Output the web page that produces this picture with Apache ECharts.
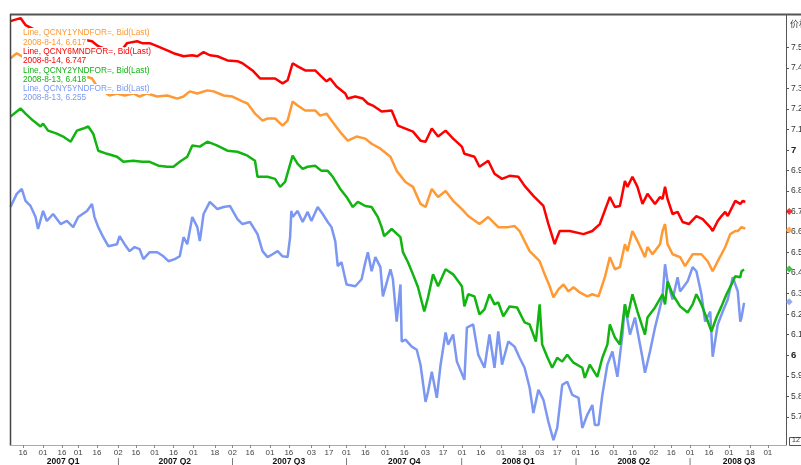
<!DOCTYPE html>
<html>
<head>
<meta charset="utf-8">
<script src="https://cdn.jsdelivr.net/npm/echarts@6/dist/echarts.min.js"></script>
<style>
html,body{margin:0;padding:0;background:#fff}
#chart{width:801px;height:465px}
</style>
</head>
<body>
<div id="chart"></div>
<script>
// QCNY6MNDFOR= (红)
var s6M = [
  ['2007-01-06',7.627],['2007-01-14',7.642],['2007-01-18',7.608],['2007-01-26',7.583],['2007-02-11',7.564],
  ['2007-02-27',7.544],['2007-03-12',7.529],['2007-03-17',7.505],['2007-03-28',7.478],['2007-04-04',7.480],['2007-04-09',7.520],
  ['2007-04-17',7.529],['2007-04-21',7.520],['2007-04-27',7.520],['2007-05-03',7.505],['2007-05-11',7.485],
  ['2007-05-16',7.471],['2007-05-24',7.456],['2007-05-31',7.461],['2007-06-04',7.456],['2007-06-09',7.476],
  ['2007-06-14',7.461],['2007-06-20',7.456],['2007-06-28',7.436],['2007-07-06',7.432],['2007-07-10',7.422],
  ['2007-07-18',7.387],['2007-07-24',7.348],['2007-07-30',7.348],['2007-08-05',7.348],['2007-08-11',7.324],
  ['2007-08-15',7.339],['2007-08-19',7.422],['2007-08-23',7.407],['2007-08-29',7.387],['2007-09-06',7.387],
  ['2007-09-10',7.363],['2007-09-15',7.334],['2007-09-18',7.348],['2007-09-23',7.309],['2007-09-30',7.275],
  ['2007-10-02',7.250],['2007-10-08',7.260],['2007-10-14',7.250],['2007-10-18',7.226],['2007-10-22',7.216],
  ['2007-10-29',7.187],['2007-11-06',7.192],['2007-11-11',7.118],['2007-11-17',7.104],['2007-11-23',7.089],
  ['2007-11-29',7.045],['2007-12-03',7.040],['2007-12-08',7.104],['2007-12-13',7.065],['2007-12-19',7.094],
  ['2007-12-25',7.055],['2008-01-01',7.016],['2008-01-03',6.981],['2008-01-11',6.967],['2008-01-15',6.918],
  ['2008-01-22',6.947],['2008-01-27',6.884],['2008-02-02',6.859],['2008-02-08',6.874],['2008-02-15',6.869],
  ['2008-02-20',6.825],['2008-02-27',6.776],['2008-03-06',6.727],['2008-03-10',6.639],['2008-03-15',6.541],
  ['2008-03-17',6.575],['2008-03-19',6.605],['2008-03-27',6.605],['2008-04-07',6.590],['2008-04-14',6.605],
  ['2008-04-20',6.639],['2008-04-28',6.771],['2008-05-02',6.722],['2008-05-06',6.727],['2008-05-10',6.849],
  ['2008-05-12',6.820],['2008-05-16',6.869],['2008-05-20',6.820],['2008-05-24',6.737],['2008-05-28',6.786],
  ['2008-06-03',6.737],['2008-06-07',6.771],['2008-06-09',6.761],['2008-06-11',6.820],['2008-06-13',6.761],
  ['2008-06-17',6.688],['2008-06-21',6.698],['2008-06-25',6.649],['2008-06-30',6.639],['2008-07-06',6.678],
  ['2008-07-11',6.663],['2008-07-17',6.624],['2008-07-19',6.605],['2008-07-23',6.654],['2008-07-26',6.678],
  ['2008-07-29',6.698],['2008-07-31',6.678],['2008-08-06',6.752],['2008-08-10',6.737],['2008-08-12',6.752],
  ['2008-08-14',6.747]
];
// QCNY1YNDFOR= (橙)
var s1Y = [
  ['2007-01-06',7.446],['2007-01-11',7.471],['2007-01-15',7.456],['2007-01-30',7.427],['2007-02-15',7.397],
  ['2007-03-02',7.368],['2007-03-12',7.348],['2007-03-16',7.309],['2007-03-21',7.285],['2007-03-26',7.265],
  ['2007-04-01',7.275],['2007-04-07',7.265],['2007-04-14',7.275],['2007-04-19',7.260],['2007-04-25',7.275],
  ['2007-05-03',7.260],['2007-05-11',7.265],['2007-05-19',7.250],['2007-05-24',7.260],['2007-05-29',7.285],
  ['2007-06-04',7.275],['2007-06-12',7.290],['2007-06-17',7.285],['2007-06-25',7.265],['2007-07-02',7.260],
  ['2007-07-10',7.236],['2007-07-14',7.226],['2007-07-20',7.177],['2007-07-26',7.143],['2007-07-30',7.153],
  ['2007-08-05',7.153],['2007-08-11',7.118],['2007-08-15',7.143],['2007-08-19',7.236],['2007-08-23',7.216],
  ['2007-08-29',7.192],['2007-09-06',7.192],['2007-09-10',7.167],['2007-09-15',7.177],['2007-09-19',7.143],
  ['2007-09-27',7.079],['2007-10-02',7.045],['2007-10-09',7.065],['2007-10-16',7.055],['2007-10-21',7.030],
  ['2007-10-28',7.006],['2007-11-05',6.967],['2007-11-10',6.898],['2007-11-17',6.844],['2007-11-23',6.820],
  ['2007-11-29',6.737],['2007-12-03',6.722],['2007-12-08',6.810],['2007-12-13',6.771],['2007-12-19',6.800],
  ['2007-12-25',6.752],['2008-01-01',6.712],['2008-01-06',6.678],['2008-01-15',6.639],['2008-01-22',6.673],
  ['2008-01-30',6.624],['2008-02-07',6.624],['2008-02-12',6.629],['2008-02-16',6.605],['2008-02-24',6.507],
  ['2008-03-03',6.458],['2008-03-07',6.394],['2008-03-11',6.336],['2008-03-14',6.282],['2008-03-18',6.321],
  ['2008-03-22',6.345],['2008-03-26',6.311],['2008-03-30',6.331],['2008-04-04',6.306],['2008-04-10',6.287],
  ['2008-04-14',6.297],['2008-04-19',6.287],['2008-04-24',6.380],['2008-04-28',6.478],['2008-05-02',6.419],
  ['2008-05-06',6.429],['2008-05-10',6.541],['2008-05-12',6.507],['2008-05-16',6.605],['2008-05-20',6.556],
  ['2008-05-26',6.478],['2008-05-28',6.527],['2008-06-01',6.492],['2008-06-07',6.541],['2008-06-09',6.605],
  ['2008-06-11',6.639],['2008-06-13',6.541],['2008-06-17',6.492],['2008-06-23',6.478],['2008-06-27',6.434],
  ['2008-07-03',6.492],['2008-07-10',6.492],['2008-07-15',6.458],['2008-07-19',6.409],['2008-07-23',6.458],
  ['2008-07-26',6.492],['2008-07-29',6.527],['2008-08-02',6.590],['2008-08-06',6.605],['2008-08-08',6.605],
  ['2008-08-11',6.624],['2008-08-14',6.617]
];
// QCNY2YNDFOR= (绿)
var s2Y = [
  ['2007-01-06',7.162],['2007-01-14',7.202],['2007-01-18',7.177],['2007-01-24',7.143],['2007-01-30',7.114],
  ['2007-02-01',7.128],['2007-02-05',7.094],['2007-02-12',7.079],['2007-02-17',7.065],['2007-02-23',7.040],
  ['2007-02-28',7.094],['2007-03-05',7.104],['2007-03-09',7.114],['2007-03-13',7.079],['2007-03-17',6.996],
  ['2007-03-24',6.981],['2007-04-01',6.967],['2007-04-06',6.942],['2007-04-14',6.947],['2007-04-21',6.942],
  ['2007-04-27',6.942],['2007-05-04',6.923],['2007-05-11',6.918],['2007-05-16',6.918],['2007-05-21',6.942],
  ['2007-05-27',6.967],['2007-05-31',7.021],['2007-06-06',7.016],['2007-06-12',7.040],['2007-06-20',7.021],
  ['2007-06-28',6.996],['2007-07-06',6.991],['2007-07-14',6.972],['2007-07-20',6.947],['2007-07-22',6.869],
  ['2007-07-30',6.869],['2007-08-05',6.859],['2007-08-09',6.820],['2007-08-13',6.844],['2007-08-19',6.972],
  ['2007-08-23',6.932],['2007-08-27',6.908],['2007-08-31',6.918],['2007-09-06',6.923],['2007-09-11',6.898],
  ['2007-09-16',6.898],['2007-09-20',6.869],['2007-09-26',6.810],['2007-10-01',6.771],['2007-10-06',6.722],
  ['2007-10-10',6.747],['2007-10-16',6.727],['2007-10-21',6.722],['2007-10-26',6.673],['2007-10-29',6.624],
  ['2007-10-31',6.580],['2007-11-06',6.615],['2007-11-13',6.575],['2007-11-15',6.502],['2007-11-19',6.453],
  ['2007-11-23',6.394],['2007-11-27',6.331],['2007-12-02',6.213],['2007-12-05',6.282],['2007-12-09',6.394],
  ['2007-12-13',6.336],['2007-12-19',6.419],['2007-12-25',6.394],['2008-01-01',6.336],['2008-01-03',6.238],
  ['2008-01-06',6.297],['2008-01-11',6.287],['2008-01-15',6.199],['2008-01-19',6.223],['2008-01-23',6.297],
  ['2008-01-27',6.248],['2008-01-30',6.257],['2008-02-03',6.189],['2008-02-08',6.238],['2008-02-14',6.233],
  ['2008-02-18',6.184],['2008-02-20',6.160],['2008-02-24',6.150],['2008-02-29',6.067],['2008-03-03',6.248],
  ['2008-03-05',6.052],['2008-03-09',5.993],['2008-03-13',5.939],['2008-03-17',5.988],['2008-03-21',5.969],
  ['2008-03-25',6.003],['2008-03-30',5.964],['2008-04-06',5.939],['2008-04-08',5.890],['2008-04-12',5.954],
  ['2008-04-18',5.895],['2008-04-22',5.988],['2008-04-26',6.052],['2008-04-28',6.150],['2008-05-02',6.086],
  ['2008-05-06',6.052],['2008-05-10',6.248],['2008-05-12',6.184],['2008-05-16',6.297],['2008-05-20',6.213],
  ['2008-05-26',6.101],['2008-05-28',6.184],['2008-06-03',6.233],['2008-06-09',6.297],['2008-06-11',6.248],
  ['2008-06-13',6.360],['2008-06-17',6.297],['2008-06-23',6.238],['2008-06-29',6.208],['2008-07-03',6.248],
  ['2008-07-06',6.297],['2008-07-10',6.248],['2008-07-14',6.184],['2008-07-18',6.116],['2008-07-22',6.184],
  ['2008-07-26',6.238],['2008-07-30',6.297],['2008-08-03',6.345],['2008-08-06',6.385],['2008-08-10',6.380],
  ['2008-08-11',6.409],['2008-08-13',6.418]
];
// QCNY5YNDFOR= (蓝)
var s5Y = [
  ['2007-01-06',6.722],['2007-01-11',6.786],['2007-01-15',6.810],['2007-01-18',6.752],['2007-01-22',6.727],
  ['2007-01-26',6.673],['2007-01-28',6.615],['2007-02-01',6.703],['2007-02-04',6.654],['2007-02-09',6.688],
  ['2007-02-15',6.639],['2007-02-20',6.654],['2007-02-25',6.624],['2007-03-01',6.673],['2007-03-08',6.703],
  ['2007-03-12',6.737],['2007-03-14',6.673],['2007-03-17',6.624],['2007-03-21',6.575],['2007-03-25',6.531],
  ['2007-04-01',6.541],['2007-04-03',6.580],['2007-04-07',6.541],['2007-04-11',6.507],['2007-04-15',6.527],
  ['2007-04-19',6.517],['2007-04-22',6.468],['2007-04-27',6.502],['2007-05-03',6.502],['2007-05-08',6.482],
  ['2007-05-12',6.458],['2007-05-17',6.468],['2007-05-21',6.482],['2007-05-24',6.575],['2007-05-27',6.541],
  ['2007-05-31',6.673],['2007-06-04',6.624],['2007-06-06',6.556],['2007-06-09',6.688],['2007-06-14',6.747],
  ['2007-06-20',6.712],['2007-06-25',6.722],['2007-06-30',6.727],['2007-07-06',6.663],['2007-07-10',6.639],
  ['2007-07-16',6.649],['2007-07-22',6.590],['2007-07-26',6.507],['2007-07-30',6.478],['2007-08-03',6.492],
  ['2007-08-07',6.507],['2007-08-11',6.482],['2007-08-15',6.478],['2007-08-17',6.575],['2007-08-18',6.703],
  ['2007-08-19',6.673],['2007-08-23',6.703],['2007-08-27',6.649],['2007-08-31',6.698],['2007-09-03',6.654],
  ['2007-09-08',6.722],['2007-09-12',6.688],['2007-09-16',6.649],['2007-09-19',6.624],['2007-09-22',6.556],
  ['2007-09-24',6.434],['2007-09-27',6.453],['2007-10-01',6.345],['2007-10-08',6.336],['2007-10-13',6.370],
  ['2007-10-16',6.453],['2007-10-18',6.502],['2007-10-21',6.409],['2007-10-24',6.478],['2007-10-28',6.429],
  ['2007-10-30',6.287],['2007-11-05',6.419],['2007-11-07',6.370],['2007-11-10',6.164],['2007-11-13',6.345],
  ['2007-11-14',6.067],['2007-11-17',6.076],['2007-11-22',6.042],['2007-11-26',6.027],['2007-11-29',5.954],
  ['2007-12-03',5.773],['2007-12-05',5.822],['2007-12-08',5.920],['2007-12-12',5.793],['2007-12-15',5.954],
  ['2007-12-19',6.111],['2007-12-21',6.052],['2007-12-25',6.101],['2007-12-28',5.969],['2008-01-03',5.881],
  ['2008-01-05',6.135],['2008-01-10',6.150],['2008-01-14',6.003],['2008-01-19',5.939],['2008-01-23',6.101],
  ['2008-01-27',5.939],['2008-01-30',6.116],['2008-02-02',5.954],['2008-02-07',6.067],['2008-02-12',6.042],
  ['2008-02-16',5.988],['2008-02-20',5.939],['2008-02-24',5.842],['2008-02-27',5.719],['2008-03-02',5.832],
  ['2008-03-06',5.783],['2008-03-10',5.675],['2008-03-14',5.587],['2008-03-17',5.646],['2008-03-21',5.856],
  ['2008-03-25',5.871],['2008-03-29',5.807],['2008-04-03',5.793],['2008-04-06',5.646],['2008-04-10',5.710],
  ['2008-04-14',5.758],['2008-04-16',5.661],['2008-04-19',5.661],['2008-04-22',5.807],['2008-04-26',5.954],
  ['2008-04-30',6.018],['2008-05-04',5.895],['2008-05-08',6.101],['2008-05-10',6.248],['2008-05-14',6.101],
  ['2008-05-18',6.184],['2008-05-24',5.988],['2008-05-26',5.915],['2008-05-30',6.018],['2008-06-03',6.135],
  ['2008-06-07',6.233],['2008-06-09',6.287],['2008-06-11',6.443],['2008-06-13',6.360],['2008-06-17',6.272],
  ['2008-06-21',6.380],['2008-06-23',6.311],['2008-06-29',6.360],['2008-07-03',6.429],['2008-07-06',6.409],
  ['2008-07-10',6.297],['2008-07-13',6.164],['2008-07-17',6.213],['2008-07-19',5.993],['2008-07-23',6.150],
  ['2008-07-27',6.213],['2008-07-31',6.272],['2008-08-04',6.380],['2008-08-08',6.311],['2008-08-10',6.164],
  ['2008-08-11',6.184],['2008-08-13',6.255]
];

// 右侧菱形标记
var endMarkDate = '2008-09-18';
var endMarks = [6.70, 6.61, 6.42, 6.26];

// 图例文字
var legendLines = [
  'Line, QCNY1YNDFOR=, Bid(Last)', '2008-8-14, 6.617',
  'Line, QCNY6MNDFOR=, Bid(Last)', '2008-8-14, 6.747',
  'Line, QCNY2YNDFOR=, Bid(Last)', '2008-8-13, 6.418',
  'Line, QCNY5YNDFOR=, Bid(Last)', '2008-8-13, 6.255'
];

// 坐标轴刻度
var dayTicks = [
  '2007-01-16','2007-02-01','2007-02-16','2007-03-01','2007-03-16','2007-04-02','2007-04-16','2007-05-01',
  '2007-05-16','2007-06-01','2007-06-18','2007-07-02','2007-07-16','2007-08-01','2007-08-16','2007-09-03',
  '2007-09-17','2007-10-01','2007-10-16','2007-11-01','2007-11-16','2007-12-03','2007-12-17','2008-01-01',
  '2008-01-16','2008-02-01','2008-02-18','2008-03-03','2008-03-17','2008-04-01','2008-04-16','2008-05-01',
  '2008-05-16','2008-06-02','2008-06-16','2008-07-01','2008-07-16','2008-08-01','2008-08-18','2008-09-01'
];
var quarterSeps = ['2007-04-02','2007-07-02','2007-10-01','2008-01-01','2008-04-01','2008-07-01'];
var quarterMids = ['2007-02-17','2007-05-17','2007-08-16','2007-11-16','2008-02-15','2008-05-17','2008-08-09'];
var quarterNames = ['2007 Q1','2007 Q2','2007 Q3','2007 Q4','2008 Q1','2008 Q2','2008 Q3'];
var yTicks = [5.7,5.8,5.9,6,6.1,6.2,6.3,6.4,6.5,6.6,6.7,6.8,6.9,7,7.1,7.2,7.3,7.4,7.5];

var colors = {r:'#ff0000', o:'#ff9933', g:'#11b411', b:'#7b97f2'};

// 日期转时间戳(数值轴)
var parse = function(d){ return echarts.time.parse(d).getTime(); };
var toXY = function(arr){ return arr.map(function(p){ return [parse(p[0]), p[1]]; }); };
var xMin = parse('2007-01-05 15:00:00');
var xMax = parse('2008-09-15 11:00:00');

var quarterMap = {};
quarterSeps.forEach(function(d){ quarterMap[parse(d)] = '{s||}'; });
quarterMids.forEach(function(d,i){ quarterMap[parse(d)] = '{q|' + quarterNames[i] + '}'; });

var chart = echarts.init(document.getElementById('chart'));

var legendColors = [colors.o, colors.o, colors.r, colors.r, colors.g, colors.g, colors.b, colors.b];
var legendY = [33, 43, 52, 61, 71, 80, 89, 98];
var graphics = legendLines.map(function(t, i){
  return {
    type:'text', z:100, left:22, top:legendY[i]-5,
    style:{text:t, fill:legendColors[i], font:'8.3px Arial', backgroundColor:'#fff', padding:[1,1,1,1]}
  };
});
graphics.push(
  {type:'line', z:50, shape:{x1:10, y1:14.5, x2:801, y2:14.5}, style:{stroke:'#555', lineWidth:2}},
  {type:'line', z:50, shape:{x1:10.5, y1:14, x2:10.5, y2:445}, style:{stroke:'#444', lineWidth:1.5}},
  {type:'text', z:50, left:790, top:19, style:{text:'价格', fill:'#333', font:'9px "Noto Sans CJK SC"'}},
  {type:'rect', z:50, left:789, top:437, shape:{width:14, height:8}, style:{fill:'#fff', stroke:'#555', lineWidth:1}},
  {type:'text', z:51, left:792, top:437, style:{text:'12', fill:'#333', font:'7px Arial'}}
);

var lineSeries = function(name, data, color){
  return {
    name:name, type:'line', data:toXY(data), showSymbol:false, symbol:'none',
    lineStyle:{color:color, width:2.5}, itemStyle:{color:color}, animation:false
  };
};

chart.setOption({
  animation:false,
  backgroundColor:'#fff',
  grid:{left:10, right:15, top:15, bottom:20, outerBoundsMode:'none', containLabel:false},
  xAxis:[
    {
      type:'value', min:xMin, max:xMax,
      axisLine:{lineStyle:{color:'#aaa'}},
      axisTick:{length:3, lineStyle:{color:'#888'}, customValues:dayTicks.map(parse)},
      splitLine:{show:false},
      axisLabel:{
        customValues:dayTicks.map(parse), margin:4, fontSize:8, color:'#444', fontFamily:'Arial',
        formatter:function(v){ var d = new Date(v).getDate(); return (d < 10 ? '0' : '') + d; }
      }
    },
    {
      type:'value', min:xMin, max:xMax, position:'bottom', offset:8,
      axisLine:{show:false}, axisTick:{show:false}, splitLine:{show:false},
      axisLabel:{
        customValues:quarterSeps.concat(quarterMids).map(parse), margin:4,
        formatter:function(v){ return quarterMap[v] || ''; },
        rich:{
          q:{fontSize:8.5, fontWeight:'bold', color:'#111', fontFamily:'Arial'},
          s:{fontSize:8, color:'#333', fontFamily:'Arial'}
        }
      }
    }
  ],
  yAxis:{
    type:'value', position:'right', min:5.563, max:7.657,
    axisLine:{show:true, lineStyle:{color:'#555'}},
    axisTick:{show:true, length:3, customValues:yTicks, lineStyle:{color:'#555'}},
    splitLine:{show:false},
    axisLabel:{
      customValues:yTicks, margin:5, fontSize:8.5, color:'#333', fontFamily:'Arial',
      formatter:function(v){ return (Math.round(v*10) % 10 === 0) ? '{b|' + Math.round(v) + '}' : v.toFixed(1); },
      rich:{b:{fontSize:9.5, fontWeight:'bold', color:'#222'}}
    }
  },
  series:[
    lineSeries('QCNY5YNDFOR=', s5Y, colors.b),
    lineSeries('QCNY2YNDFOR=', s2Y, colors.g),
    lineSeries('QCNY1YNDFOR=', s1Y, colors.o),
    lineSeries('QCNY6MNDFOR=', s6M, colors.r),
    {
      type:'scatter', clip:false, symbol:'diamond', symbolSize:7, animation:false, z:5,
      data:endMarks.map(function(v, i){
        return {value:[parse(endMarkDate), v], itemStyle:{color:[colors.r, colors.o, colors.g, colors.b][i]}};
      })
    }
  ],
  graphic:graphics
});
</script>
</body>
</html>
